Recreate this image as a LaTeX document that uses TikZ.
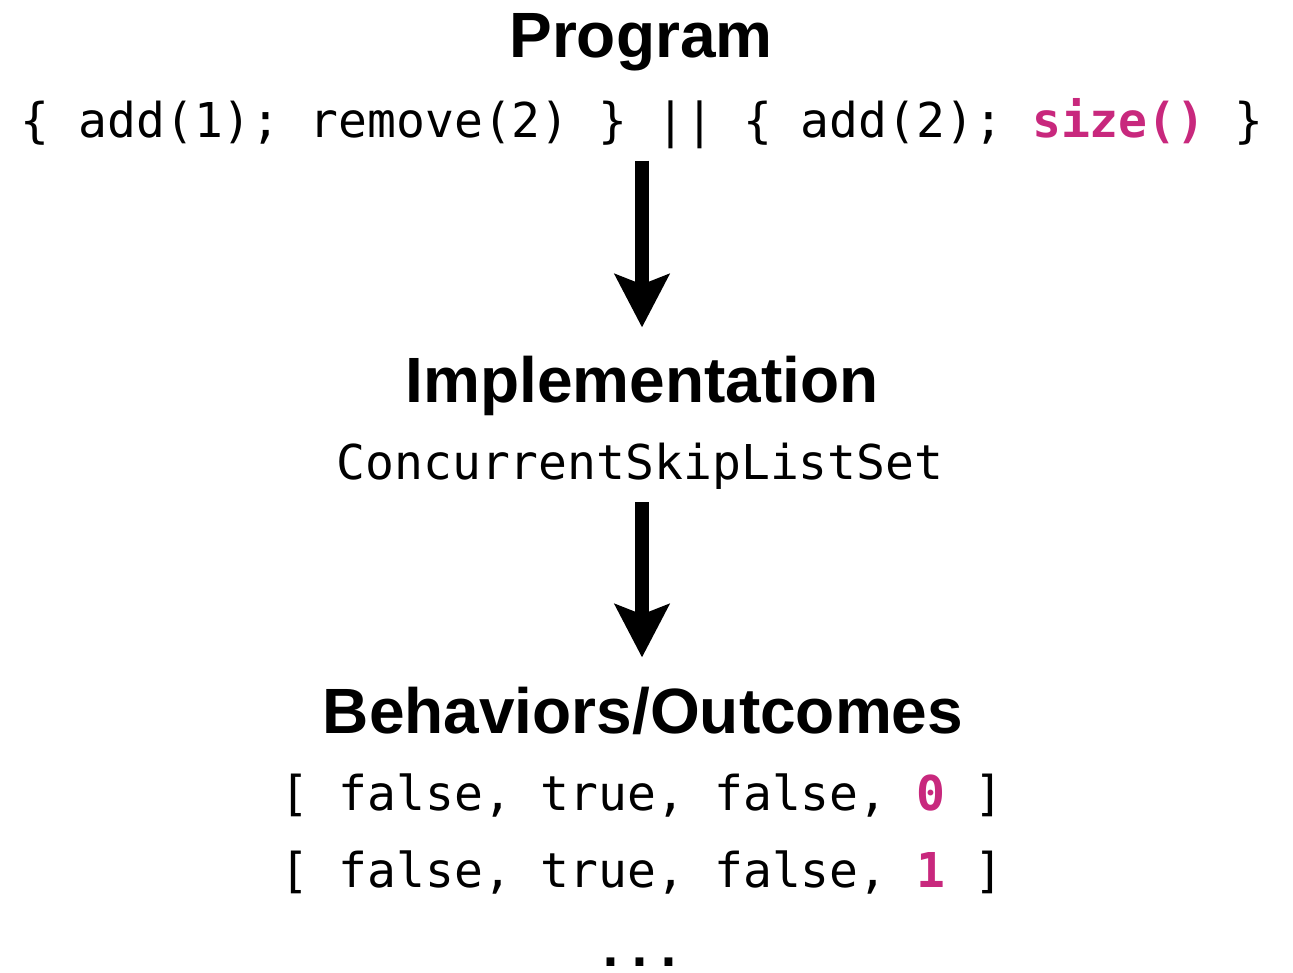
\documentclass[tikz,border=0pt]{standalone}
\usepackage{fontspec}
\setmainfont{Liberation Sans}
\setmonofont{DejaVu Sans Mono}
\usetikzlibrary{arrows.meta}
\definecolor{callpink}{RGB}{200,40,125}
\tikzstyle{heading}=[font=\fontsize{64}{70}\selectfont\bfseries,anchor=base,inner sep=0pt]
\tikzstyle{codeline}=[font=\fontsize{48}{58}\selectfont\ttfamily,anchor=base,inner sep=0pt]
\tikzstyle{bigarrow}=[-{Stealth[length=53pt,width=54pt,inset=10pt]},line width=14pt]
\newcommand{\hl}[1]{\textcolor{callpink}{\textbf{#1}}}

\begin{document}
\begin{tikzpicture}[x=1pt,y=-1pt]
  \useasboundingbox (0,0) rectangle (1293,972);
  % program
  \node[heading] (program) at (641,57) {Program};
  \node[codeline] (prog) at (642,137) {\{ add(1); remove(2) \} || \{ add(2); \hl{size()} \}};
  % implementation
  \node[heading] (impl) at (642,402) {Implementation};
  \node[codeline] (skiplist) at (640,479) {ConcurrentSkipListSet};
  % outcomes
  \node[heading] (outcomes) at (643,733) {Behaviors/Outcomes};
  \node[codeline] (outA) at (642,810) {[ false, true, false, \hl{0} ]};
  \node[codeline] (outB) at (642,887) {[ false, true, false, \hl{1} ]};
  \node[codeline] (more) at (640,966) {\textbf{...}};

  \draw[bigarrow,shorten <=12pt,shorten >=28pt] (prog.south) -- (impl.north);
  \draw[bigarrow,shorten <=13pt,shorten >=29pt] (skiplist.south -| impl.south) -- (outcomes.north -| impl.south);
\end{tikzpicture}
\end{document}
